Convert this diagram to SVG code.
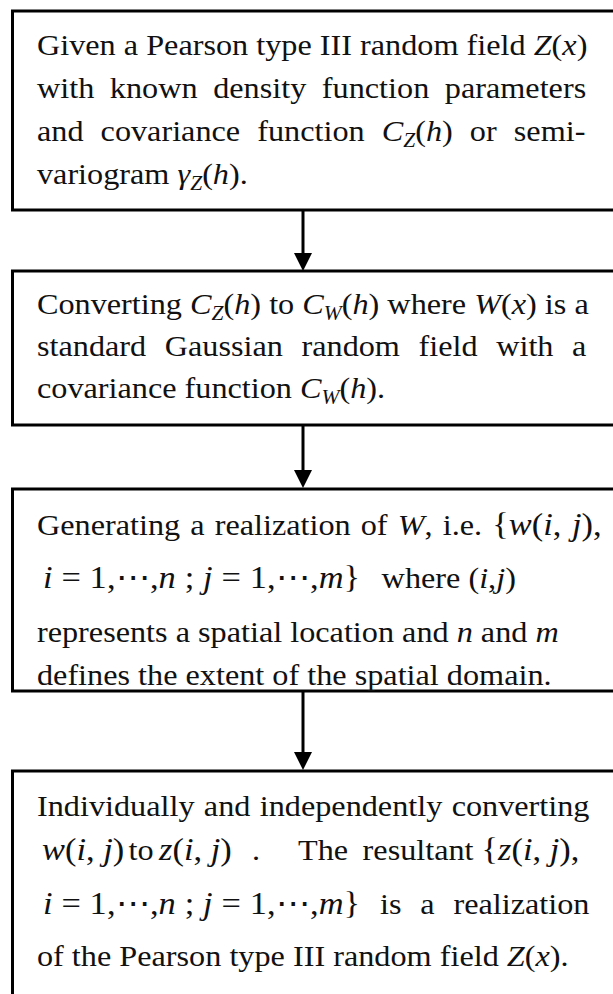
<svg xmlns="http://www.w3.org/2000/svg" width="613" height="994" viewBox="0 0 613 994">
  <style>
    .box { fill: #ffffff; stroke: #000000; stroke-width: 3; }
    .txt { font-family: "Liberation Serif", "Times New Roman", "DejaVu Serif", serif; font-size: 30px; fill: #111111; }
    .math { font-size: 32px; }
    .it { font-style: italic; }
    .sub { font-style: italic; font-size: 20px; }
    .link { stroke: #000000; stroke-width: 3; fill: none; }
    .head { fill: #000000; }
  </style>
  <defs>
    <!-- arrowhead drawn along +x, base at the line end -->
    <marker id="arrowhead" viewBox="0 0 18 18" refX="0" refY="9" markerWidth="18" markerHeight="18" markerUnits="userSpaceOnUse" orient="auto">
      <path class="head" d="M0,0 L18,9 L0,18 Z"/>
    </marker>
  </defs>
  <rect width="613" height="994" fill="#ffffff"/>

  <!-- step 1: input field -->
  <g id="node-input">
    <rect class="box" x="12.5" y="11" width="640" height="199"/>
    <g transform="scale(1.075,1)">
      <text class="txt" x="34.4" y="55">Given a Pearson type III random field <tspan class="it">Z</tspan>(<tspan class="it">x</tspan>)</text>
      <text class="txt" x="34.4" y="98" word-spacing="7">with known density function parameters</text>
      <text class="txt" x="34.4" y="141" word-spacing="8.4">and covariance function <tspan class="it">C</tspan><tspan class="sub" dy="6">Z</tspan><tspan dy="-6">(</tspan><tspan class="it">h</tspan>) or semi-</text>
      <text class="txt" x="34.4" y="184">variogram <tspan class="it">γ</tspan><tspan class="sub" dy="6">Z</tspan><tspan dy="-6">(</tspan><tspan class="it">h</tspan>).</text>
    </g>
  </g>

  <!-- step 2: covariance conversion -->
  <g id="node-convert-cov">
    <rect class="box" x="12.5" y="271" width="640" height="154"/>
    <g transform="scale(1.075,1)">
      <text class="txt" x="34.4" y="314">Converting <tspan class="it">C</tspan><tspan class="sub" dy="6">Z</tspan><tspan dy="-6">(</tspan><tspan class="it">h</tspan>) to <tspan class="it">C</tspan><tspan class="sub" dy="6">W</tspan><tspan dy="-6">(</tspan><tspan class="it">h</tspan>) where <tspan class="it">W</tspan>(<tspan class="it">x</tspan>) is a</text>
      <text class="txt" x="34.4" y="356" word-spacing="9.8">standard Gaussian random field with a</text>
      <text class="txt" x="34.4" y="398">covariance function <tspan class="it">C</tspan><tspan class="sub" dy="6">W</tspan><tspan dy="-6">(</tspan><tspan class="it">h</tspan>).</text>
    </g>
  </g>

  <!-- step 3: Gaussian realization -->
  <g id="node-gaussian">
    <rect class="box" x="12.5" y="489" width="640" height="202"/>
    <g transform="scale(1.075,1)">
      <text class="txt" x="34.4" y="535" word-spacing="1.9">Generating a realization of <tspan class="it">W</tspan>, i.e. <tspan class="math">{<tspan class="it">w</tspan>(<tspan class="it">i</tspan>, <tspan class="it">j</tspan>),</tspan></text>
      <text class="txt math" x="40" y="588" textLength="295" lengthAdjust="spacing"><tspan class="it">i</tspan> = 1,⋯,<tspan class="it">n</tspan> ; <tspan class="it">j</tspan> = 1,⋯,<tspan class="it">m</tspan>}</text>
      <text class="txt" x="355" y="588">where (<tspan class="it">i</tspan>,<tspan class="it">j</tspan>)</text>
      <text class="txt" x="34.4" y="642">represents a spatial location and <tspan class="it">n</tspan> and <tspan class="it">m</tspan></text>
      <text class="txt" x="34.4" y="685">defines the extent of the spatial domain.</text>
    </g>
  </g>

  <!-- step 4: transform to Pearson type III -->
  <g id="node-transform">
    <rect class="box" x="12.5" y="771" width="640" height="260"/>
    <g transform="scale(1.075,1)">
      <text class="txt" x="34.4" y="816" word-spacing="1.2">Individually and independently converting</text>
      <text class="txt math" x="39.1" y="860"><tspan class="it">w</tspan>(<tspan class="it">i</tspan>, <tspan class="it">j</tspan>)</text>
      <text class="txt" x="119.5" y="860">to</text>
      <text class="txt math" x="148" y="860"><tspan class="it">z</tspan>(<tspan class="it">i</tspan>, <tspan class="it">j</tspan>)</text>
      <text class="txt" x="234.4" y="860">.</text>
      <text class="txt" x="277.2" y="860" word-spacing="6">The resultant</text>
      <text class="txt math" x="448" y="860">{<tspan class="it">z</tspan>(<tspan class="it">i</tspan>, <tspan class="it">j</tspan>),</text>
      <text class="txt math" x="40" y="914" textLength="295" lengthAdjust="spacing"><tspan class="it">i</tspan> = 1,⋯,<tspan class="it">n</tspan> ; <tspan class="it">j</tspan> = 1,⋯,<tspan class="it">m</tspan>}</text>
      <text class="txt" x="353.5" y="914" word-spacing="10">is a realization</text>
      <text class="txt" x="34.4" y="966">of the Pearson type III random field <tspan class="it">Z</tspan>(<tspan class="it">x</tspan>).</text>
    </g>
  </g>

  <!-- connectors -->
  <g id="connectors">
    <line class="link" x1="303" y1="211" x2="303" y2="253" marker-end="url(#arrowhead)"/>
    <line class="link" x1="303" y1="426" x2="303" y2="470" marker-end="url(#arrowhead)"/>
    <line class="link" x1="303" y1="692" x2="303" y2="752" marker-end="url(#arrowhead)"/>
  </g>
</svg>
